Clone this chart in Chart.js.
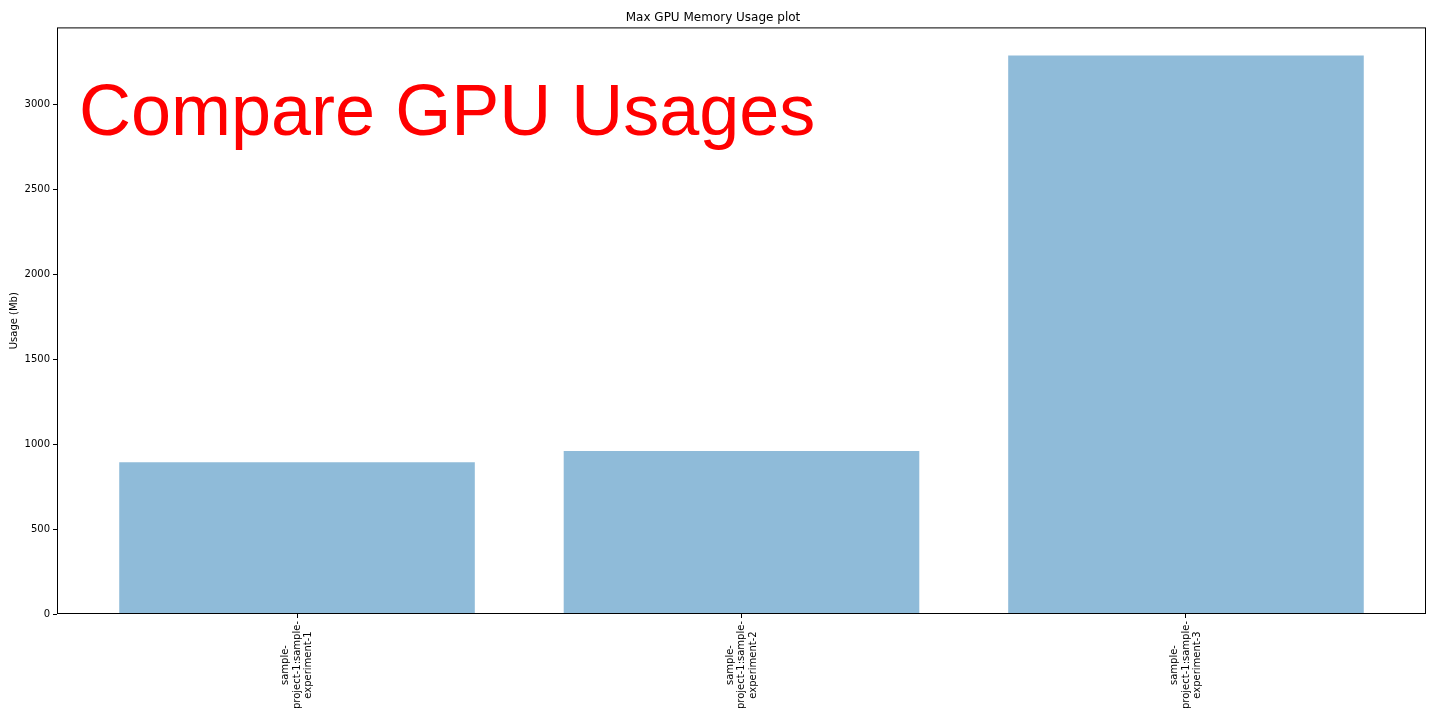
<!DOCTYPE html>
<html>
<head>
<meta charset="utf-8">
<script src="https://cdn.jsdelivr.net/npm/chart.js@4/dist/chart.umd.min.js"></script>
<style>
  html, body { margin: 0; padding: 0; background: #fff; }
  #wrap { width: 1440px; height: 720px; }
</style>
</head>
<body>
<div id="wrap"><canvas id="gpu"></canvas></div>
<script>
let experiments = [
    ["sample-", "project-1:sample-", "experiment-1"],
    ["sample-", "project-1:sample-", "experiment-2"],
    ["sample-", "project-1:sample-", "experiment-3"]
];
let maxUsage = [894, 959, 3288];
let yTicks = [0, 500, 1000, 1500, 2000, 2500, 3000];

// frame round the plot, the big red note, and the rotated x labels (centred lines)
let framePlugin = {
    id: "frame",
    afterDraw: function(chart) {
        let ctx = chart.ctx, a = chart.chartArea;
        ctx.save();
        ctx.strokeStyle = "#000";
        ctx.lineWidth = 1;
        ctx.strokeRect(a.left + 0.5, a.top + 0.5, a.right - a.left - 1, a.bottom - a.top - 1);

        ctx.fillStyle = "#ff0000";
        ctx.font = "72px 'Liberation Sans', Arial, sans-serif";
        ctx.textBaseline = "alphabetic";
        ctx.textAlign = "left";
        ctx.fillText("Compare GPU Usages", a.left + 22, a.top + 108);

        let xs = chart.scales.x;
        ctx.fillStyle = "#000";
        ctx.font = "10px 'DejaVu Sans'";
        ctx.textAlign = "center";
        ctx.textBaseline = "middle";
        experiments.forEach(function(lines, i) {
            let px = xs.getPixelForValue(i);
            let w = Math.max.apply(null, lines.map(function(s) { return ctx.measureText(s).width; }));
            ctx.save();
            ctx.translate(px, a.bottom + 7 + w / 2);
            ctx.rotate(-Math.PI / 2);
            lines.forEach(function(s, k) {
                ctx.fillText(s, 0, (k - (lines.length - 1) / 2) * 11.5);
            });
            ctx.restore();
        });
        ctx.restore();
    }
};

let ctx = document.getElementById("gpu").getContext("2d");
new Chart(ctx, {
    type: "bar",
    data: {
        datasets: [{
            label: "Max GPU Memory",
            data: maxUsage.map(function(v, i) { return { x: i, y: v }; }),
            backgroundColor: "rgba(31,119,180,0.5)",
            borderWidth: 0,
            barPercentage: 0.8,
            categoryPercentage: 1.0
        }]
    },
    plugins: [framePlugin],
    options: {
        responsive: true,
        maintainAspectRatio: false,
        animation: false,
        layout: { padding: { left: 0, right: 14, top: 0, bottom: 0 } },
        plugins: {
            legend: { display: false },
            tooltip: { enabled: false },
            title: {
                display: true,
                text: "Max GPU Memory Usage plot",
                color: "#000",
                font: { family: "'DejaVu Sans'", size: 12, weight: "normal" },
                padding: { top: 11, bottom: 2 }
            }
        },
        scales: {
            x: {
                type: "linear",
                min: -0.54,
                max: 2.54,
                offset: false,
                afterBuildTicks: function(axis) {
                    axis.ticks = experiments.map(function(e, i) { return { value: i }; });
                },
                afterFit: function(axis) { axis.height = 106; },
                grid: { display: true, offset: false, drawOnChartArea: false, color: "#000", tickLength: 4 },
                border: { display: false },
                ticks: { display: false }
            },
            y: {
                min: 0,
                max: 3453,
                afterBuildTicks: function(axis) {
                    axis.ticks = yTicks.map(function(v) { return { value: v }; });
                },
                afterFit: function(axis) { axis.width = 57; },
                grid: { display: true, drawOnChartArea: false, color: "#000", tickLength: 4 },
                border: { display: false },
                title: {
                    display: true,
                    text: "Usage (Mb)",
                    color: "#000",
                    font: { family: "'DejaVu Sans'", size: 10 },
                    padding: { top: 8, bottom: 4 }
                },
                ticks: {
                    color: "#000",
                    font: { family: "'DejaVu Sans'", size: 10 },
                    padding: 3,
                    callback: function(value) { return String(value); }
                }
            }
        }
    }
});
</script>
</body>
</html>
